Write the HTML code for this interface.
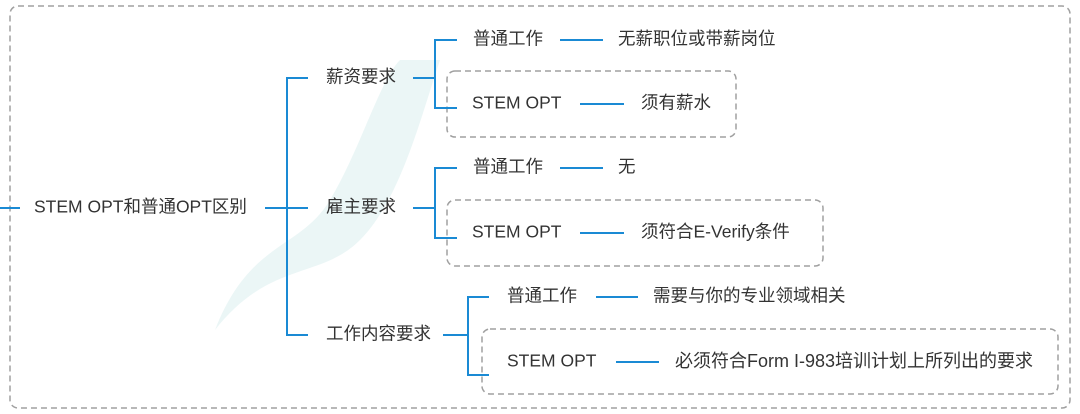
<!DOCTYPE html>
<html><head><meta charset="utf-8"><style>
html,body{margin:0;padding:0;background:#fff;width:1080px;height:414px;overflow:hidden}
text{font-family:"Liberation Sans","Noto Sans CJK SC",sans-serif;font-size:17.5px;fill:#333;dominant-baseline:middle}
</style></head><body>
<svg width="1080" height="414" xmlns="http://www.w3.org/2000/svg">
<path d="M215 330 C250 240 300 250 330 200 C360 150 380 80 400 60 L440 60 C420 120 400 200 360 240 C320 280 270 260 215 330Z" fill="#e6f4f4" opacity="0.8"/>
<g fill="none" stroke="#a0a0a0" stroke-width="1.5" stroke-dasharray="6,4">
<rect x="10" y="6" width="1060" height="402" rx="8"/>
<rect x="447" y="71" width="289" height="66" rx="8"/>
<rect x="447" y="200" width="376" height="66" rx="8"/>
<rect x="482" y="329" width="576" height="65" rx="8"/>
</g>
<g fill="none" stroke="#1a8ad4" stroke-width="2">
<path d="M0 208 H20"/>
<path d="M265 208 H308 M308 78 H287 V335 H308"/>
<path d="M413 78 H435 M457 40 H435 V108 H457"/>
<path d="M413 208 H435 M457 168 H435 V238 H457"/>
<path d="M443 335 H468 M489 297 H468 V375 H489"/>
<path d="M560 40 H603 M580 104 H624"/>
<path d="M560 168 H603 M580 233 H624"/>
<path d="M596 297 H638 M616 362 H659"/>
</g>
<text x="34" y="208">STEM OPT和普通OPT区别</text>
<text x="326" y="78">薪资要求</text>
<text x="326" y="208">雇主要求</text>
<text x="326" y="335">工作内容要求</text>
<text x="473" y="40">普通工作</text>
<text x="618" y="40">无薪职位或带薪岗位</text>
<text x="472" y="104">STEM OPT</text>
<text x="641" y="104">须有薪水</text>
<text x="473" y="168">普通工作</text>
<text x="618" y="168">无</text>
<text x="472" y="233">STEM OPT</text>
<text x="641" y="233">须符合E-Verify条件</text>
<text x="507" y="297">普通工作</text>
<text x="653" y="297">需要与你的专业领域相关</text>
<text x="507" y="362">STEM OPT</text>
<text x="675" y="362" style="font-size:18px">必须符合Form I-983培训计划上所列出的要求</text>
</svg>
</body></html>
